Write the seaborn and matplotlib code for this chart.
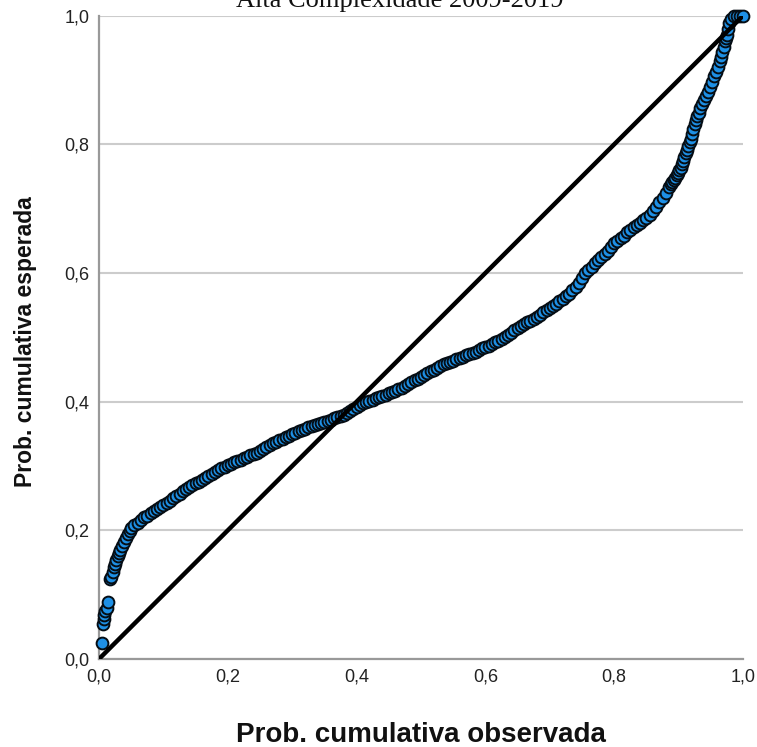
import matplotlib
matplotlib.use("Agg")
import matplotlib.pyplot as plt
import seaborn as sns
import pandas as pd

# ---- data ----
# lower steep part
low_observed = [0.004, 0.006, 0.007, 0.008, 0.010, 0.012, 0.014, 0.017, 0.019, 0.021,
                0.023, 0.025, 0.027, 0.029, 0.031, 0.033, 0.036, 0.039, 0.042, 0.045,
                0.048]
low_expected = [0.025, 0.055, 0.062, 0.068, 0.074, 0.080, 0.088, 0.124, 0.128, 0.136,
                0.143, 0.148, 0.154, 0.160, 0.165, 0.170, 0.176, 0.182, 0.188, 0.194,
                0.199]
# flat middle part
mid_observed = [
    0.050, 0.055, 0.060, 0.065, 0.070, 0.075, 0.080, 0.085, 0.090, 0.095,
    0.100, 0.105, 0.110, 0.115, 0.120, 0.125, 0.130, 0.135, 0.140, 0.145,
    0.150, 0.155, 0.160, 0.165, 0.170, 0.175, 0.180, 0.185, 0.190, 0.195,
    0.200, 0.205, 0.210, 0.215, 0.220, 0.225, 0.230, 0.235, 0.240, 0.245,
    0.250, 0.255, 0.260, 0.265, 0.270, 0.275, 0.280, 0.285, 0.290, 0.295,
    0.300, 0.305, 0.310, 0.315, 0.320, 0.325, 0.330, 0.335, 0.340, 0.345,
    0.350, 0.355, 0.360, 0.365, 0.370, 0.375, 0.380, 0.385, 0.390, 0.395,
    0.400, 0.405, 0.410, 0.415, 0.420, 0.425, 0.430, 0.435, 0.440, 0.445,
    0.450, 0.455, 0.460, 0.465, 0.470, 0.475, 0.480, 0.485, 0.490, 0.495,
    0.500, 0.505, 0.510, 0.515, 0.520, 0.525, 0.530, 0.535, 0.540, 0.545,
    0.550, 0.555, 0.560, 0.565, 0.570, 0.575, 0.580, 0.585, 0.590, 0.595,
    0.600, 0.605, 0.610, 0.615, 0.620, 0.625, 0.630, 0.635, 0.640, 0.645,
    0.650, 0.655, 0.660, 0.665, 0.670, 0.675, 0.680, 0.685, 0.690, 0.695,
    0.700, 0.705, 0.710, 0.715, 0.720, 0.725, 0.730, 0.735, 0.740, 0.745,
    0.750, 0.755, 0.760, 0.765, 0.770, 0.775, 0.780, 0.785, 0.790, 0.795,
    0.800, 0.805, 0.810, 0.815, 0.820, 0.825, 0.830, 0.835, 0.840, 0.845,
    0.850, 0.855, 0.860, 0.865, 0.870, 0.875, 0.880,
]
mid_expected = [
    0.203, 0.208, 0.212, 0.216, 0.220, 0.223, 0.227, 0.230, 0.233, 0.236,
    0.239, 0.242, 0.246, 0.250, 0.254, 0.257, 0.261, 0.265, 0.267, 0.270,
    0.273, 0.275, 0.278, 0.281, 0.285, 0.288, 0.291, 0.294, 0.297, 0.299,
    0.301, 0.303, 0.306, 0.308, 0.310, 0.312, 0.314, 0.317, 0.319, 0.321,
    0.324, 0.327, 0.329, 0.332, 0.335, 0.337, 0.340, 0.342, 0.345, 0.347,
    0.350, 0.352, 0.354, 0.356, 0.358, 0.360, 0.362, 0.364, 0.365, 0.367,
    0.369, 0.370, 0.372, 0.374, 0.376, 0.377, 0.380, 0.383, 0.386, 0.389,
    0.392, 0.395, 0.398, 0.399, 0.401, 0.403, 0.405, 0.407, 0.409, 0.411,
    0.413, 0.415, 0.417, 0.419, 0.422, 0.424, 0.427, 0.430, 0.433, 0.436,
    0.439, 0.442, 0.445, 0.447, 0.450, 0.453, 0.455, 0.458, 0.460, 0.462,
    0.464, 0.466, 0.468, 0.470, 0.472, 0.474, 0.476, 0.478, 0.480, 0.483,
    0.485, 0.487, 0.490, 0.493, 0.495, 0.498, 0.501, 0.504, 0.507, 0.511,
    0.514, 0.518, 0.521, 0.524, 0.526, 0.529, 0.532, 0.535, 0.539, 0.542,
    0.545, 0.549, 0.552, 0.556, 0.560, 0.564, 0.568, 0.573, 0.578, 0.585,
    0.593, 0.600, 0.605, 0.610, 0.615, 0.620, 0.625, 0.630, 0.635, 0.641,
    0.646, 0.650, 0.654, 0.658, 0.663, 0.667, 0.671, 0.675, 0.678, 0.682,
    0.686, 0.690, 0.696, 0.703, 0.710, 0.717, 0.724,
]
# upper steep part
high_observed = [0.885, 0.888, 0.890, 0.893, 0.895, 0.897, 0.899, 0.901, 0.903, 0.905,
                 0.907, 0.909, 0.911, 0.913, 0.915, 0.917, 0.919, 0.921, 0.923, 0.925,
                 0.927, 0.929, 0.931, 0.934, 0.937, 0.940, 0.943, 0.946, 0.949, 0.952,
                 0.955, 0.958, 0.961, 0.964, 0.966, 0.968, 0.970, 0.972, 0.974, 0.975,
                 0.977, 0.979, 0.982, 0.986, 0.990, 0.995, 1.000]
high_expected = [0.733, 0.738, 0.741, 0.745, 0.748, 0.752, 0.756, 0.760, 0.764, 0.769,
                 0.774, 0.780, 0.786, 0.792, 0.797, 0.803, 0.809, 0.816, 0.824, 0.831,
                 0.838, 0.844, 0.849, 0.856, 0.863, 0.869, 0.875, 0.881, 0.889, 0.897,
                 0.906, 0.913, 0.921, 0.930, 0.936, 0.944, 0.952, 0.960, 0.966, 0.970,
                 0.980, 0.989, 0.995, 0.999, 1.000, 1.000, 1.000]
diagonal = [0.0, 1.0]
tick_values = [0.0, 0.2, 0.4, 0.6, 0.8, 1.0]
tick_labels = ["0,0", "0,2", "0,4", "0,6", "0,8", "1,0"]
title = "Alta Complexidade 2009-2019"
xlabel = "Prob. cumulativa observada"
ylabel = "Prob. cumulativa esperada"

df = pd.DataFrame({
    "observada": low_observed + mid_observed + high_observed,
    "esperada": low_expected + mid_expected + high_expected,
})
diag_df = pd.DataFrame({"x": diagonal, "y": diagonal})

sns.set_style("white")
plt.rcParams["font.family"] = ["Liberation Sans", "DejaVu Sans"]

W, H = 757, 747
fig = plt.figure(figsize=(W / 100, H / 100), dpi=100)
x0, x1 = 99, 743
y0, y1 = 659, 15.7
ax = fig.add_axes([x0 / W, 1 - y0 / H, (x1 - x0) / W, (y0 - y1) / H])

sns.scatterplot(data=df, x="observada", y="esperada", ax=ax,
                color="#1e90e6", edgecolor="#050d14", linewidth=1.4,
                s=72, zorder=3, clip_on=False, legend=False)
sns.lineplot(data=diag_df, x="x", y="y", ax=ax, color="black",
             linewidth=3.2, zorder=4, legend=False)

ax.set_xlim(0, 1)
ax.set_ylim(0, 1)
ax.set_xticks(tick_values)
ax.set_xticklabels(tick_labels)
ax.set_yticks(tick_values)
ax.set_yticklabels(tick_labels)
ax.tick_params(axis="both", length=0, labelsize=13, colors="#222222", pad=7)

ax.yaxis.grid(True, color="#cccccc", linewidth=1.5)
ax.xaxis.grid(False)
ax.set_axisbelow(True)
for side in ["top", "right"]:
    ax.spines[side].set_visible(False)
for side in ["left", "bottom"]:
    ax.spines[side].set_color("#999999")
    ax.spines[side].set_linewidth(1.6)

ax.set_xlabel(xlabel, fontsize=20, fontweight="bold", color="#111111",
              va="baseline")
ax.xaxis.set_label_coords(0.5, -(742 - y0) / (y0 - y1))
ax.set_ylabel(ylabel, fontsize=16.5, fontweight="bold", color="#111111",
              va="center", ha="center")
ax.yaxis.set_label_coords((26 - x0) / (x1 - x0), (y0 - 342) / (y0 - y1))

fig.text(400 / W, 1 - 7 / H, title, family=["Liberation Serif", "DejaVu Serif"],
         fontsize=19, ha="center", va="baseline", color="#111111")

fig.savefig("out.png", dpi=100)
